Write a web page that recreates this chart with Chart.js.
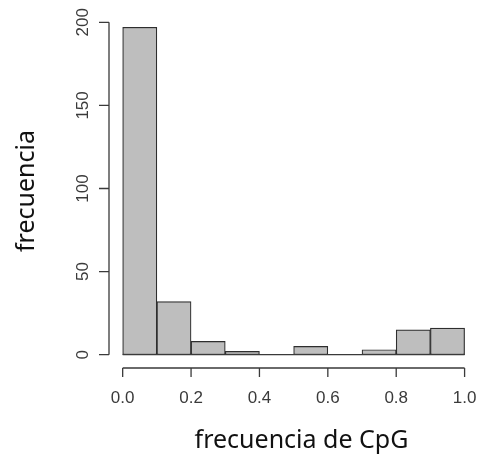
<!DOCTYPE html>
<html>
<head>
<meta charset="utf-8">
<script src="https://cdn.jsdelivr.net/npm/chart.js@4/dist/chart.umd.min.js"></script>
<style>
  html, body { margin: 0; padding: 0; background: #fff; overflow: hidden; }
  canvas { display: block; }
</style>
</head>
<body>
<canvas id="histChart" width="494" height="456"></canvas>
<script>
// datos del histograma (intervalos de 0.1)
const binCenters = [0.05, 0.15, 0.25, 0.35, 0.45, 0.55, 0.65, 0.75, 0.85, 0.95];
const counts = [197, 32, 8, 2, 0, 5, 0, 3, 15, 16];
const xTicks = [0, 0.2, 0.4, 0.6, 0.8, 1.0];
const yTicks = [0, 50, 100, 150, 200];

const lineColor = '#3a3a3a';

// ejes al estilo de R, separados del area de las barras
const rAxes = {
  id: 'rAxes',
  afterDatasetsDraw(chart) {
    const c = chart.ctx;
    const x = chart.scales.x;
    const y = chart.scales.y;
    const area = chart.chartArea;
    c.save();
    c.strokeStyle = lineColor;
    c.lineWidth = 1.3;
    c.beginPath();
    // linea base de las barras
    c.moveTo(x.getPixelForValue(0), y.getPixelForValue(0));
    c.lineTo(x.getPixelForValue(1), y.getPixelForValue(0));
    // eje y
    c.moveTo(area.left, y.getPixelForValue(yTicks[0]));
    c.lineTo(area.left, y.getPixelForValue(yTicks[yTicks.length - 1]));
    yTicks.forEach(v => {
      const py = y.getPixelForValue(v);
      c.moveTo(area.left, py);
      c.lineTo(area.left - 10, py);
    });
    // eje x
    c.moveTo(x.getPixelForValue(xTicks[0]), area.bottom);
    c.lineTo(x.getPixelForValue(xTicks[xTicks.length - 1]), area.bottom);
    xTicks.forEach(v => {
      const px = x.getPixelForValue(v);
      c.moveTo(px, area.bottom);
      c.lineTo(px, area.bottom + 9);
    });
    c.stroke();
    c.restore();
  }
};

const tickFont = { family: 'Liberation Sans', size: 17 };
const titleFont = { family: 'Noto Sans', size: 25 };

new Chart(document.getElementById('histChart'), {
  type: 'bar',
  data: {
    datasets: [{
      data: binCenters.map((v, i) => ({ x: v, y: counts[i] })),
      backgroundColor: '#bebebe',
      borderColor: '#2e2e2e',
      borderWidth: 1.2,
      borderSkipped: false,
      barPercentage: 1,
      categoryPercentage: 1
    }]
  },
  options: {
    responsive: false,
    animation: false,
    layout: { padding: { left: 0, right: 0, top: 14, bottom: 0 } },
    plugins: {
      legend: { display: false },
      tooltip: { enabled: false }
    },
    scales: {
      x: {
        type: 'linear',
        min: -0.04,
        max: 1.086,
        offset: false,
        grid: { display: false },
        border: { display: false },
        afterBuildTicks: s => { s.ticks = xTicks.map(v => ({ value: v })); },
        afterFit: s => { s.height = 88; s.paddingLeft = 0; s.paddingRight = 0; },
        ticks: {
          color: lineColor,
          font: tickFont,
          padding: 12,
          maxRotation: 0,
          callback: v => v.toFixed(1)
        },
        title: {
          display: true,
          text: 'frecuencia de CpG',
          color: '#111',
          font: titleFont,
          padding: { top: 0, bottom: 0 }
        }
      },
      y: {
        min: -8,
        max: 205,
        grid: { display: false },
        border: { display: false },
        afterBuildTicks: s => { s.ticks = yTicks.map(v => ({ value: v })); },
        afterFit: s => { s.width = 109; s.paddingTop = 0; s.paddingBottom = 0; },
        ticks: {
          color: lineColor,
          font: tickFont,
          padding: 4,
          minRotation: 90,
          maxRotation: 90,
          crossAlign: 'center'
        },
        title: {
          display: true,
          text: 'frecuencia',
          color: '#111',
          font: titleFont,
          padding: { top: 12, bottom: 0 }
        }
      }
    }
  },
  plugins: [rAxes]
});
</script>
</body>
</html>
